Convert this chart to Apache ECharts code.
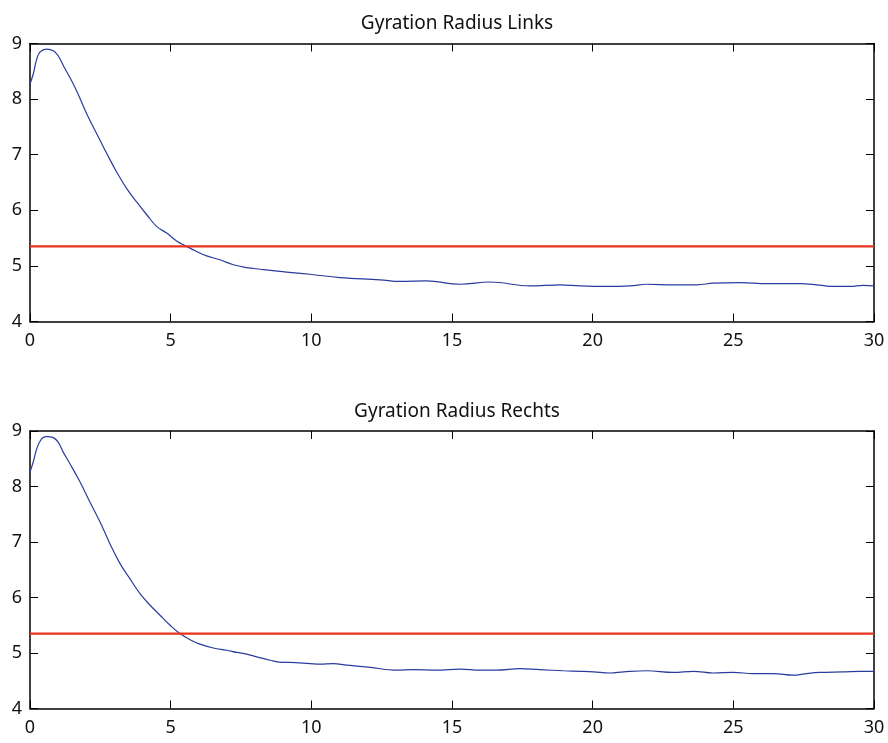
<!DOCTYPE html>
<html>
<head>
<meta charset="utf-8">
<script src="https://cdn.jsdelivr.net/npm/echarts@6/dist/echarts.min.js"></script>
<style>
html,body{margin:0;padding:0;background:#fff;}
#c{width:888px;height:743px;}
</style>
</head>
<body>
<div id="c"></div>
<script>
var titles = ['Gyration Radius Links', 'Gyration Radius Rechts'];
var xTicks = [0, 5, 10, 15, 20, 25, 30];
var yTicks = [4, 5, 6, 7, 8, 9];

var linksX = [0,0.12,0.24,0.36,0.59,0.83,1.0,1.24,1.48,1.72,2.01,2.49,2.73,3.08,3.44,3.79,4.15,4.50,4.86,5.21,5.57,5.92,6.28,6.75,7.23,7.70,8.18,8.89,9.95,11.02,12.44,13.15,14.1,15.29,16.35,17.77,18.84,19.55,20.5,21.33,21.92,22.87,23.7,24.29,25.24,26.19,27.37,27.97,28.56,29.15,29.62,30];
var linksY = [8.27,8.46,8.72,8.85,8.90,8.87,8.78,8.55,8.33,8.08,7.74,7.26,7.02,6.69,6.39,6.15,5.92,5.71,5.59,5.45,5.35,5.26,5.18,5.11,5.02,4.97,4.94,4.90,4.85,4.79,4.75,4.72,4.73,4.67,4.71,4.64,4.66,4.64,4.63,4.64,4.67,4.66,4.66,4.69,4.70,4.68,4.68,4.66,4.63,4.63,4.65,4.64];

var rechtsX = [0,0.12,0.24,0.41,0.59,0.83,1.0,1.18,1.42,1.78,2.13,2.49,2.84,3.2,3.55,3.91,4.27,4.62,4.98,5.33,5.69,6.04,6.52,6.99,7.35,7.70,8.06,8.53,9.0,9.24,9.95,10.31,10.78,11.26,12.09,13.04,13.63,14.46,15.29,16.0,16.59,17.42,18.13,18.96,19.55,20.03,20.62,21.1,21.92,22.87,23.58,24.29,25.0,25.71,26.42,27.13,27.61,28.08,28.91,29.5,30];
var rechtsY = [8.26,8.45,8.68,8.86,8.90,8.88,8.80,8.62,8.41,8.08,7.72,7.36,6.97,6.61,6.34,6.07,5.86,5.68,5.50,5.35,5.24,5.16,5.09,5.05,5.01,4.98,4.93,4.87,4.83,4.83,4.81,4.80,4.81,4.78,4.74,4.69,4.70,4.69,4.71,4.69,4.69,4.72,4.70,4.68,4.67,4.66,4.64,4.66,4.68,4.65,4.67,4.64,4.65,4.63,4.63,4.60,4.63,4.65,4.66,4.67,4.67];

var thresholdX = [0, 30];
var thresholdLinks = [5.35, 5.35];
var thresholdRechts = [5.35, 5.35];

function pairs(xs, ys){ return xs.map(function(x,i){ return [x, ys[i]]; }); }

var FONT = 'Noto Sans';
var grids = [
  {left: 30, right: 14, top: 43.5, height: 278},
  {left: 30, right: 14, top: 431, height: 277.5}
];
var lineStyle = {color: '#000', width: 1.5};
var xAxes = [], yAxes = [];
grids.forEach(function(g, i){
  var xmin = xTicks[0], xmax = xTicks[xTicks.length-1];
  var ymin = yTicks[0], ymax = yTicks[yTicks.length-1];
  xAxes.push({type:'value', gridIndex:i, min:xmin, max:xmax, interval:5, position:'bottom',
    axisLine:{show:true, onZero:false, lineStyle:lineStyle},
    axisTick:{show:true, inside:true, length:8, lineStyle:{color:'#000', width:1}},
    axisLabel:{show:true, color:'#111', fontFamily:FONT, fontSize:18, margin:10},
    splitLine:{show:false}});
  xAxes.push({type:'value', gridIndex:i, min:xmin, max:xmax, interval:5, position:'top',
    axisLine:{show:true, onZero:false, lineStyle:lineStyle},
    axisTick:{show:true, inside:true, length:8, lineStyle:{color:'#000', width:1}},
    axisLabel:{show:false}, splitLine:{show:false}});
  yAxes.push({type:'value', gridIndex:i, min:ymin, max:ymax, interval:1, position:'left',
    axisLine:{show:true, onZero:false, lineStyle:lineStyle},
    axisTick:{show:true, inside:true, length:8, lineStyle:{color:'#000', width:1}},
    axisLabel:{show:true, color:'#111', fontFamily:FONT, fontSize:18, margin:8},
    splitLine:{show:false}});
  yAxes.push({type:'value', gridIndex:i, min:ymin, max:ymax, interval:1, position:'right',
    axisLine:{show:true, onZero:false, lineStyle:lineStyle},
    axisTick:{show:true, inside:true, length:8, lineStyle:{color:'#000', width:1}},
    axisLabel:{show:false}, splitLine:{show:false}});
});

var option = {
  animation: false,
  backgroundColor: '#fff',
  title: [
    {text: titles[0], left: 452, top: 9, textAlign: 'center', textStyle:{fontFamily:FONT, fontSize:19, fontWeight:'normal', color:'#111'}},
    {text: titles[1], left: 452, top: 397, textAlign: 'center', textStyle:{fontFamily:FONT, fontSize:19, fontWeight:'normal', color:'#111'}}
  ],
  grid: grids,
  xAxis: xAxes,
  yAxis: yAxes,
  series: [
    {type:'line', xAxisIndex:0, yAxisIndex:0, data: pairs(linksX, linksY), smooth:0.4, showSymbol:false,
     lineStyle:{color:'#2a3c9e', width:1.2}, z:3},
    {type:'line', xAxisIndex:0, yAxisIndex:0, data: pairs(thresholdX, thresholdLinks), showSymbol:false,
     lineStyle:{color:'#e8321e', width:2.2}, z:4},
    {type:'line', xAxisIndex:2, yAxisIndex:2, data: pairs(rechtsX, rechtsY), smooth:0.4, showSymbol:false,
     lineStyle:{color:'#2a3c9e', width:1.2}, z:3},
    {type:'line', xAxisIndex:2, yAxisIndex:2, data: pairs(thresholdX, thresholdRechts), showSymbol:false,
     lineStyle:{color:'#e8321e', width:2.2}, z:4}
  ]
};
var chart = echarts.init(document.getElementById('c'), null, {renderer:'canvas'});
chart.setOption(option);
</script>
</body>
</html>
